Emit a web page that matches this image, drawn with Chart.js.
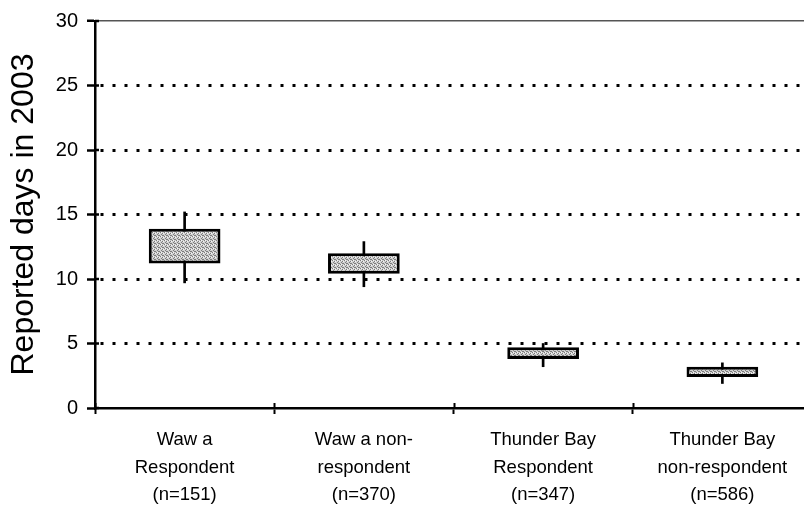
<!DOCTYPE html>
<html>
<head>
<meta charset="utf-8">
<script src="https://cdn.jsdelivr.net/npm/chart.js@4/dist/chart.umd.min.js"></script>
<style>
  html, body { margin: 0; padding: 0; background: #fff; overflow: hidden; }
  #wrap { width: 816px; height: 512px; }
</style>
</head>
<body>
<div id="wrap"><canvas id="c" width="816" height="512"></canvas></div>
<script>
// Groups along the x axis (multi-line labels)
const categories = [
  ['Waw a', 'Respondent', '(n=151)'],
  ['Waw a non-', 'respondent', '(n=370)'],
  ['Thunder Bay', 'Respondent', '(n=347)'],
  ['Thunder Bay', 'non-respondent', '(n=586)']
];

// Reported days in 2003: whisker ends and box edges per group
const whiskerLow  = [9.7, 9.4, 3.2, 1.9];
const boxLow      = [11.2, 10.4, 3.8, 2.4];
const boxHigh     = [13.9, 12.0, 4.7, 3.2];
const whiskerHigh = [15.2, 12.9, 5.0, 3.5];

// Y axis range and tick step
const yMin = 0;
const yMax = 30;
const yStep = 5;

const FONT = '"Liberation Sans", Arial, Helvetica, sans-serif';

// Stippled grey fill used for the boxes
function stipple() {
  const p = document.createElement('canvas');
  p.width = 4; p.height = 4;
  const g = p.getContext('2d');
  g.fillStyle = '#d0d0d0';
  g.fillRect(0, 0, 4, 4);
  g.fillStyle = '#7c7c7c';
  [[0,0],[2,1],[1,2],[3,3],[2,3]].forEach(([x, y]) => g.fillRect(x, y, 1, 1));
  g.fillStyle = '#f4f4f4';
  [[3,1],[1,0]].forEach(([x, y]) => g.fillRect(x, y, 1, 1));
  return g.createPattern(p, 'repeat');
}

// Short tick marks that cross both axis lines
const crossTicks = {
  id: 'crossTicks',
  afterDraw(chart) {
    const { ctx, chartArea, scales } = chart;
    ctx.save();
    ctx.strokeStyle = '#000';
    ctx.lineWidth = 2;
    const x = scales.x;
    for (let i = 0; i <= categories.length; i++) {
      const px = Math.round(x.getPixelForValue(i - 0.5)) + 0.5;
      ctx.beginPath();
      ctx.moveTo(px, chartArea.bottom - 5);
      ctx.lineTo(px, chartArea.bottom);
      ctx.stroke();
    }
    const y = scales.y;
    ctx.lineWidth = 2.5;
    for (let v = yMin; v <= yMax; v += yStep) {
      const py = y.getPixelForValue(v);
      ctx.beginPath();
      ctx.moveTo(chartArea.left, py);
      ctx.lineTo(chartArea.left + 4, py);
      ctx.stroke();
    }
    ctx.restore();
  }
};

const ctx = document.getElementById('c').getContext('2d');

new Chart(ctx, {
  type: 'bar',
  data: {
    labels: categories,
    datasets: [
      {
        label: 'box',
        data: boxLow.map((v, i) => [v, boxHigh[i]]),
        backgroundColor: stipple(),
        borderColor: '#000',
        borderWidth: 3,
        borderSkipped: false,
        barPercentage: 0.4,
        categoryPercentage: 1,
        grouped: false
      },
      {
        label: 'whisker',
        data: whiskerLow.map((v, i) => [v, whiskerHigh[i]]),
        backgroundColor: '#000',
        borderWidth: 0,
        barThickness: 2,
        grouped: false
      }
    ]
  },
  plugins: [crossTicks],
  options: {
    responsive: false,
    animation: false,
    devicePixelRatio: 1,
    layout: { padding: { top: 20, right: 4, bottom: 0, left: 0 } },
    plugins: {
      legend: { display: false },
      tooltip: { enabled: false },
      title: { display: false }
    },
    scales: {
      x: {
        offset: true,
        afterFit(scale) { scale.height = 104; },
        grid: {
          offset: true,
          drawOnChartArea: false,
          drawTicks: true,
          tickLength: 6,
          tickWidth: 2,
          tickColor: '#000',
          tickBorderDash: []
        },
        border: { display: true, color: '#000', width: 2.5 },
        ticks: {
          color: '#000',
          padding: 12,
          maxRotation: 0,
          autoSkip: false,
          font: { family: FONT, size: 18.5, lineHeight: 1.5 }
        }
      },
      y: {
        min: yMin,
        max: yMax,
        afterFit(scale) { scale.width = 95; },
        title: {
          display: true,
          text: 'Reported days in 2003',
          color: '#000',
          padding: { top: 5, bottom: 0 },
          font: { family: FONT, size: 32, lineHeight: 1.2 }
        },
        grid: {
          drawTicks: true,
          tickLength: 8,
          tickWidth: 2.5,
          tickColor: '#000',
          tickBorderDash: [],
          color: (c) => {
            const v = c.tick ? c.tick.value : null;
            if (v === yMin) return 'rgba(0,0,0,0)';
            if (v === yMax) return '#555';
            return '#000';
          },
          lineWidth: (c) => (c.tick && c.tick.value === yMax ? 1.5 : 3)
        },
        border: {
          display: true,
          color: '#000',
          width: 2.5,
          dash: (c) => (c.tick && c.tick.value === yMax ? [] : [3, 9]),
          dashOffset: -4
        },
        ticks: {
          stepSize: yStep,
          color: '#000',
          padding: 9,
          font: { family: FONT, size: 20 }
        }
      }
    }
  }
});
</script>
</body>
</html>
